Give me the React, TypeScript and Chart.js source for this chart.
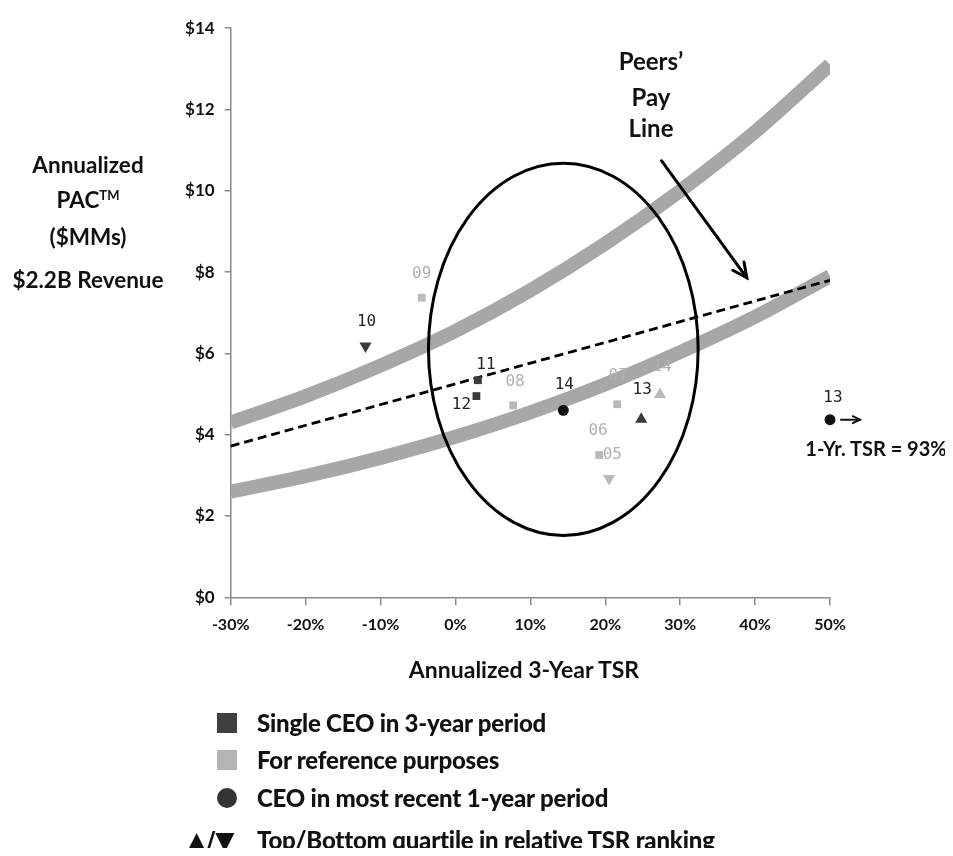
import React, { useEffect, useRef } from "react";
import { Chart, registerables } from "chart.js";

Chart.register(...registerables);

// ---------- data ----------
const xTickValues = [-30, -20, -10, 0, 10, 20, 30, 40, 50];
const yTickValues = [0, 2, 4, 6, 8, 10, 12, 14];

const bandTsr = [-30, -20, -10, 0, 10, 20, 30, 40, 50];
const upperBand = [4.3, 4.95, 5.7, 6.55, 7.55, 8.7, 10.0, 11.45, 13.1];
const lowerBand = [2.6, 2.98, 3.43, 3.95, 4.55, 5.24, 6.03, 6.9, 7.9];

const peerLineTsr = [-30, 50];
const peerLinePay = [3.72, 7.8];

const pointYear = ["09", "10", "11", "12", "08", "14", "07", "13", "14", "05", "06", "13"];
const pointTsr = [-4.5, -12.0, 3.0, 2.8, 7.7, 14.4, 21.6, 24.8, 27.3, 19.2, 20.5, 50];
const pointPay = [7.37, 6.18, 5.34, 4.95, 4.72, 4.6, 4.75, 4.38, 4.99, 3.5, 2.92, 4.37];
const pointGroup = ["reference", "single", "single", "single", "reference", "recent", "reference", "single", "reference", "reference", "reference", "recent"];
const pointMark = ["square", "down", "square", "square", "square", "circle", "square", "up", "up", "square", "down", "circle"];

// ellipse (data units)
const ellipseCenterTsr = 14.4;
const ellipseCenterPay = 6.1;
const ellipseHalfTsr = 18;
const ellipseHalfPay = 4.58;

// "Peers' Pay Line" arrow (data units)
const peerArrowFrom = [27.5, 10.74];
const peerArrowTo = [38.9, 7.86];

const legendItems = [
  "Single CEO in 3-year period",
  "For reference purposes",
  "CEO in most recent 1-year period",
  "Top/Bottom quartile in relative TSR ranking",
];

// ---------- styles ----------
const FONT = "Lato, 'Open Sans', sans-serif";
const BAND_COLOR = "#a7a7a7";
const groupColor: Record<string, string> = {
  single: "#3a3a3a",
  reference: "#b9b9b9",
  recent: "#111111",
};
const groupLabelColor: Record<string, string> = {
  single: "#222222",
  reference: "#b0b0b0",
  recent: "#222222",
};
const labelOffsets: number[][] = [
  [0, -24], [1, -24], [8, -15], [-15, 9], [2, -24], [1, -25],
  [1, -28], [1, -29], [2, -28], [13, 0], [-11, -48], [3, -22],
];

function drawArrowHead(ctx: CanvasRenderingContext2D, x1: number, y1: number, x2: number, y2: number, len: number) {
  const a = Math.atan2(y2 - y1, x2 - x1);
  const spread = 0.45;
  ctx.beginPath();
  ctx.moveTo(x2 - len * Math.cos(a - spread), y2 - len * Math.sin(a - spread));
  ctx.lineTo(x2, y2);
  ctx.lineTo(x2 - len * Math.cos(a + spread), y2 - len * Math.sin(a + spread));
  ctx.stroke();
}

const overlayPlugin = {
  id: "overlay",
  afterDatasetsDraw(chart: any) {
    const { ctx } = chart;
    const x = chart.scales.x;
    const y = chart.scales.y;
    ctx.save();

    // ellipse
    const cx = x.getPixelForValue(ellipseCenterTsr);
    const cy = y.getPixelForValue(ellipseCenterPay);
    const rx = Math.abs(x.getPixelForValue(ellipseCenterTsr + ellipseHalfTsr) - cx);
    const ry = Math.abs(y.getPixelForValue(ellipseCenterPay + ellipseHalfPay) - cy);
    ctx.beginPath();
    ctx.ellipse(cx, cy, rx, ry, 0, 0, Math.PI * 2);
    ctx.lineWidth = 3;
    ctx.strokeStyle = "#000";
    ctx.stroke();

    // Peers' pay line arrow
    const ax1 = x.getPixelForValue(peerArrowFrom[0]);
    const ay1 = y.getPixelForValue(peerArrowFrom[1]);
    const ax2 = x.getPixelForValue(peerArrowTo[0]);
    const ay2 = y.getPixelForValue(peerArrowTo[1]);
    ctx.lineWidth = 3;
    ctx.lineCap = "round";
    ctx.beginPath();
    ctx.moveTo(ax1, ay1);
    ctx.lineTo(ax2, ay2);
    ctx.stroke();
    drawArrowHead(ctx, ax1, ay1, ax2, ay2, 16);

    // point labels
    ctx.font = "16px 'DejaVu Sans Mono', monospace";
    ctx.textAlign = "center";
    ctx.textBaseline = "middle";
    pointYear.forEach((lab, i) => {
      const px = x.getPixelForValue(pointTsr[i]);
      const py = y.getPixelForValue(pointPay[i]);
      ctx.fillStyle = groupLabelColor[pointGroup[i]];
      ctx.fillText(lab, px + labelOffsets[i][0], py + labelOffsets[i][1]);
    });

    // small arrow to the right of off-scale point
    const last = pointTsr.length - 1;
    const lx = x.getPixelForValue(pointTsr[last]);
    const ly = y.getPixelForValue(pointPay[last]);
    ctx.lineWidth = 2;
    ctx.strokeStyle = "#111";
    ctx.beginPath();
    ctx.moveTo(lx + 11, ly);
    ctx.lineTo(lx + 30, ly);
    ctx.stroke();
    drawArrowHead(ctx, lx + 11, ly, lx + 30, ly, 8);

    ctx.restore();
  },
};

function Txt(props: { x: number; y: number; children: React.ReactNode; style?: React.CSSProperties }) {
  return (
    <div
      style={{
        position: "absolute",
        left: props.x,
        top: props.y,
        transform: "translate(-50%, -50%)",
        whiteSpace: "nowrap",
        fontFamily: FONT,
        color: "#111",
        lineHeight: 1,
        ...props.style,
      }}
    >
      {props.children}
    </div>
  );
}

export default function App() {
  const canvasRef = useRef<HTMLCanvasElement | null>(null);

  useEffect(() => {
    if (!canvasRef.current) return;
    const pointData = pointTsr.map((t, i) => ({ x: t, y: pointPay[i] }));
    const chart = new Chart(canvasRef.current, {
      type: "scatter",
      data: {
        datasets: [
          {
            data: pointData,
            pointStyle: pointMark.map((m) => (m === "square" ? "rect" : m === "circle" ? "circle" : "triangle")) as any,
            rotation: pointMark.map((m) => (m === "down" ? 180 : 0)),
            pointRadius: pointMark.map((m) => (m === "square" ? 5.5 : m === "circle" ? 5.5 : 7)),
            backgroundColor: pointGroup.map((g) => groupColor[g]),
            borderColor: pointGroup.map((g) => groupColor[g]),
            borderWidth: 0,
            clip: false,
            order: 0,
          } as any,
          {
            data: peerLineTsr.map((t, i) => ({ x: t, y: peerLinePay[i] })),
            showLine: true,
            borderColor: "#000",
            borderWidth: 2.8,
            borderDash: [9, 5],
            pointRadius: 0,
            clip: 0,
            order: 1,
          } as any,
          {
            data: bandTsr.map((t, i) => ({ x: t, y: upperBand[i] })),
            showLine: true,
            borderColor: BAND_COLOR,
            borderWidth: 14,
            cubicInterpolationMode: "monotone",
            pointRadius: 0,
            clip: 0,
            order: 2,
          } as any,
          {
            data: bandTsr.map((t, i) => ({ x: t, y: lowerBand[i] })),
            showLine: true,
            borderColor: BAND_COLOR,
            borderWidth: 14,
            cubicInterpolationMode: "monotone",
            pointRadius: 0,
            clip: 0,
            order: 2,
          } as any,
        ],
      },
      options: {
        animation: false,
        responsive: true,
        maintainAspectRatio: false,
        layout: { padding: { left: 0, right: 115, top: 12.7, bottom: 210.7 } },
        plugins: { legend: { display: false }, tooltip: { enabled: false } },
        scales: {
          x: {
            type: "linear",
            min: -30,
            max: 50,
            afterFit: (s: any) => {
              s.height = 40;
            },
            afterBuildTicks: (s: any) => {
              s.ticks = xTickValues.map((v) => ({ value: v }));
            },
            ticks: {
              padding: 10,
              color: "#111",
              font: { family: FONT, size: 16, weight: "bold" },
              callback: (v: any) => `${v}%`,
            },
            grid: { drawOnChartArea: false, drawTicks: true, tickLength: 8, color: "#8a8a8a", lineWidth: 1.5 },
            border: { color: "#8a8a8a", width: 1.5 },
          },
          y: {
            type: "linear",
            min: 0,
            max: 14,
            afterFit: (s: any) => {
              s.width = 222.7;
            },
            afterBuildTicks: (s: any) => {
              s.ticks = yTickValues.map((v) => ({ value: v }));
            },
            ticks: {
              padding: 10,
              color: "#111",
              font: { family: FONT, size: 17, weight: "bold" },
              callback: (v: any) => `$${v}`,
            },
            grid: { drawOnChartArea: false, drawTicks: true, tickLength: 6, color: "#8a8a8a", lineWidth: 1.5 },
            border: { color: "#8a8a8a", width: 1.5 },
          },
        },
      },
      plugins: [overlayPlugin],
    });
    return () => chart.destroy();
  }, []);

  const bold: React.CSSProperties = { fontWeight: 700, fontSize: 22.5 };
  const legendText: React.CSSProperties = {
    position: "absolute",
    left: 249,
    transform: "translateY(-50%)",
    fontFamily: FONT,
    fontWeight: 900,
    fontSize: 24,
    letterSpacing: -0.2,
    color: "#111",
    whiteSpace: "nowrap",
    lineHeight: 1,
  };

  return (
    <div style={{ position: "relative", width: 937, height: 840 }}>
      <canvas ref={canvasRef} style={{ position: "absolute", left: 0, top: 0 }} />
      <div style={{ position: "absolute", inset: 0 }}>
        <Txt x={80} y={157} style={bold}>Annualized</Txt>
        <Txt x={80} y={192} style={bold}>
          PAC<sup style={{ fontSize: 13, verticalAlign: "super" }}>TM</sup>
        </Txt>
        <Txt x={80} y={229} style={bold}>($MMs)</Txt>
        <Txt x={80} y={272} style={bold}>$2.2B Revenue</Txt>

        <Txt x={516} y={661} style={{ fontWeight: 700, fontSize: 23 }}>Annualized 3-Year TSR</Txt>

        <Txt x={643} y={53} style={{ fontWeight: 700, fontSize: 24 }}>Peers’</Txt>
        <Txt x={643} y={89} style={{ fontWeight: 700, fontSize: 24 }}>Pay</Txt>
        <Txt x={643} y={120} style={{ fontWeight: 700, fontSize: 24 }}>Line</Txt>

        <Txt x={868} y={440} style={{ fontWeight: 700, fontSize: 20 }}>1-Yr. TSR = 93%</Txt>

        <div style={{ position: "absolute", left: 209, top: 705, width: 20, height: 20, background: "#404040" }} />
        <div style={{ position: "absolute", left: 209, top: 742, width: 20, height: 20, background: "#b4b4b4" }} />
        <div style={{ position: "absolute", left: 209, top: 780, width: 20, height: 20, borderRadius: 10, background: "#333" }} />
        <div style={{ ...legendText, left: 179, top: 832, fontFamily: "'DejaVu Sans', sans-serif", fontWeight: 700, fontSize: 25, letterSpacing: 0 }}>▲/▼</div>

        {legendItems.map((t, i) => (
          <div key={t} style={{ ...legendText, top: [715, 752, 790, 832][i] }}>
            {t}
          </div>
        ))}
      </div>
    </div>
  );
}
